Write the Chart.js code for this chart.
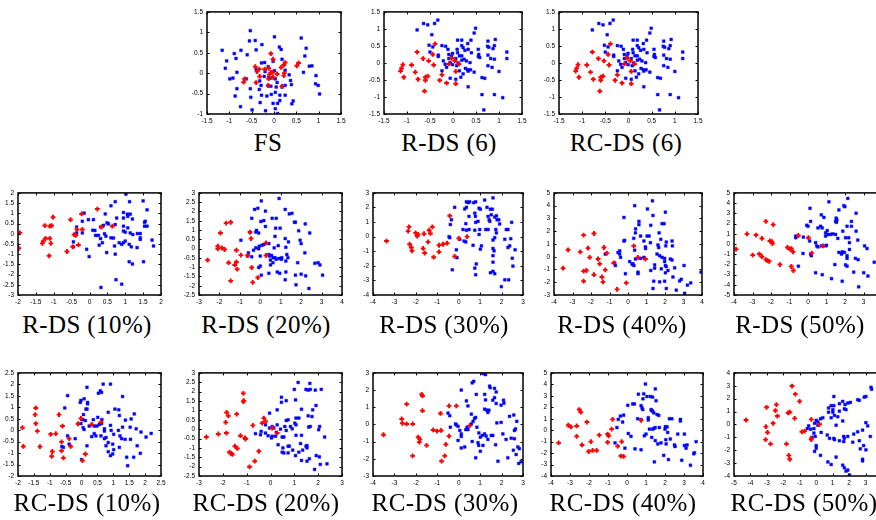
<!DOCTYPE html>
<html><head><meta charset="utf-8">
<script src="https://cdn.jsdelivr.net/npm/chart.js@4.4.1/dist/chart.umd.min.js"></script>
<style>
html,body{margin:0;padding:0;background:#fff;width:876px;height:520px;overflow:hidden;position:relative}
.pl{position:absolute}
.tt{position:absolute;font-family:"Liberation Serif",serif;font-size:25px;letter-spacing:0.4px;color:#000;white-space:nowrap;transform:translateX(-50%);line-height:25px}
</style></head><body>
<script>
// ---------------- DATA ----------------
const titles = ['FS','R-DS (6)','RC-DS (6)','R-DS (10%)','R-DS (20%)','R-DS (30%)','R-DS (40%)','R-DS (50%)','RC-DS (10%)','RC-DS (20%)','RC-DS (30%)','RC-DS (40%)','RC-DS (50%)'];
// axis ranges [min, max, step]
const xRanges = [[-1.5,1.5,0.5],[-1.5,1.5,0.5],[-1.5,1.5,0.5],[-2,2,0.5],[-3,4,1],[-4,3,1],[-4,4,1],[-4,4,1],[-2,2.5,0.5],[-3,3,1],[-4,3,1],[-4,4,1],[-5,4,1]];
const yRanges = [[-1,1.5,0.5],[-1.5,1.5,0.5],[-1.5,1.5,0.5],[-3,2,0.5],[-2.5,3,0.5],[-4,3,1],[-3,5,1],[-5,5,1],[-2,2.5,0.5],[-2.5,3,0.5],[-3,3,1],[-4,5,1],[-4,4,1]];

const FS_blue = [[-0.53,1.04],[-0.55,0.79],[-0.42,0.80],[-1.16,0.56],[-1.06,0.30],[-0.89,0.48],[-0.74,0.56],[-0.40,0.57],[-0.60,0.45],[-0.27,0.70],[0.12,0.64],[0.16,0.58],[0.01,0.89],[0.61,0.86],[0.72,0.61],[-0.85,0.36],[0.69,0.42],[-1.09,0.12],[0.79,0.17],[0.85,0.18],[-0.83,0.02],[-0.99,-0.14],[-0.92,-0.12],[-0.62,-0.14],[-0.21,0.26],[-0.02,0.29],[-0.13,0.16],[0.01,0.06],[-0.22,-0.08],[-0.12,-0.10],[0.03,-0.14],[-0.32,-0.19],[0.34,-0.04],[0.37,-0.18],[0.66,0.02],[0.94,-0.06],[-0.83,-0.38],[-0.87,-0.56],[-0.53,-0.38],[-0.33,-0.40],[-0.13,-0.31],[0.07,-0.23],[0.05,-0.34],[-0.07,-0.32],[0.18,-0.34],[0.25,-0.30],[0.39,-0.28],[0.93,-0.26],[0.99,-0.30],[1.02,-0.51],[-0.28,-0.54],[-0.06,-0.52],[0.03,-0.47],[0.13,-0.54],[0.25,-0.54],[-0.52,-0.59],[-0.31,-0.72],[-0.16,-0.56],[0.13,-0.67],[0.08,-0.74],[-0.02,-0.74],[0.43,-0.68],[0.40,-0.75],[-0.75,-0.82],[-0.49,-0.90],[-0.19,-0.92],[0.03,-0.87],[0.08,-0.99],[-0.29,-0.30],[-0.20,0.04],[-0.08,-0.12],[0.25,0.07],[-0.40,0.10],[-0.28,0.25],[0.18,0.34]];
const FS_red = [[-0.07,0.48],[-0.02,0.34],[-0.42,0.16],[-0.33,0.10],[-0.38,0.04],[-0.21,0.10],[-0.12,0.12],[-0.10,-0.03],[-0.07,0.02],[-0.03,0.02],[-0.12,-0.14],[-0.02,-0.10],[0.07,-0.02],[0.16,0.14],[0.22,0.20],[0.25,0.26],[0.23,0.0],[0.22,-0.06],[0.51,0.18],[0.55,0.25],[-0.68,-0.22],[-0.66,-0.14],[-0.40,-0.23],[-0.13,-0.30],[0.18,-0.32],[-0.32,-0.08]];

const RDS6_blue = [[-0.64,1.16],[-0.55,1.12],[-0.40,1.16],[-0.33,1.26],[-0.78,0.97],[-0.46,0.83],[0.49,1.02],[0.46,0.88],[-0.24,0.51],[-0.16,0.49],[-0.11,0.40],[0.10,0.67],[0.19,0.67],[0.32,0.57],[0.39,0.67],[-0.52,0.52],[-0.44,0.47],[-0.50,0.32],[-0.32,0.23],[-0.09,0.25],[-0.01,0.28],[0.09,0.40],[0.19,0.51],[0.22,0.45],[0.10,0.30],[0.14,0.21],[0.26,0.37],[0.33,0.40],[0.40,0.30],[0.55,0.40],[0.58,0.16],[0.76,0.64],[0.75,0.49],[0.78,0.46],[0.90,0.51],[0.92,0.69],[0.87,0.42],[1.17,0.32],[1.17,0.13],[-0.03,0.19],[-0.09,0.13],[-0.21,0.06],[-0.17,-0.04],[-0.06,0.01],[-0.01,-0.05],[-0.14,-0.13],[-0.24,-0.23],[0.06,0.13],[0.11,0.0],[0.19,0.08],[0.24,0.11],[0.29,0.06],[0.37,0.01],[0.27,-0.16],[0.32,-0.20],[0.33,-0.24],[0.22,-0.32],[0.08,-0.08],[0.14,-0.23],[0.17,-0.42],[0.06,-0.48],[-0.06,-0.45],[0.55,0.19],[0.56,0.25],[0.76,0.23],[0.82,0.13],[0.90,0.11],[0.76,-0.08],[0.85,-0.13],[1.00,-0.25],[0.63,-0.43],[0.69,-0.45],[0.33,-0.70],[0.63,-0.93],[0.90,-0.93],[1.08,-1.02],[0.67,-1.38],[0.38,-0.20],[0.46,-0.27],[0.19,0.21],[-0.32,0.19]];
const RDS6_red = [[-1.14,-0.24],[-1.12,-0.16],[-1.09,-0.05],[-0.90,-0.06],[-1.07,-0.42],[-0.82,-0.27],[-0.76,-0.48],[-0.60,-0.42],[-0.55,-0.39],[-0.60,-0.51],[-0.62,-0.83],[-0.78,0.32],[-0.65,0.13],[-0.53,0.06],[-0.44,0.25],[-0.42,-0.06],[-0.39,0.56],[-0.24,-0.35],[-0.29,-0.51],[-0.14,-0.59],[-0.09,-0.03],[-0.03,0.14],[0.04,0.06],[0.06,-0.25],[0.06,-0.61],[0.13,-0.03]];

const RDS10_blue = [[1.02,1.94],[0.72,1.57],[0.60,1.37],[1.12,1.57],[1.50,1.61],[1.61,1.17],[0.95,1.04],[1.06,0.96],[1.14,0.96],[1.07,0.85],[1.20,0.72],[0.44,0.97],[0.49,0.53],[0.53,0.48],[0.76,0.77],[0.95,0.77],[0.72,0.45],[0.95,0.37],[0.95,0.13],[1.00,0.08],[1.07,0.29],[1.14,0.04],[1.21,-0.04],[1.34,0.01],[1.42,0.01],[1.42,-0.20],[1.42,-0.28],[1.54,0.56],[1.54,0.37],[1.61,0.37],[1.56,0.61],[0.39,0.41],[0.31,0.33],[0.11,0.69],[-0.03,0.69],[-0.20,0.61],[-0.15,1.01],[-0.36,0.33],[-0.36,0.04],[-0.20,0.04],[0.09,0.17],[0.15,0.16],[0.17,-0.08],[0.25,-0.08],[0.31,-0.24],[0.42,0.0],[0.46,-0.12],[0.60,-0.20],[0.67,-0.21],[0.70,-0.60],[0.83,-0.44],[0.90,-0.52],[1.00,-0.36],[0.95,-0.44],[1.11,-0.52],[1.17,-0.64],[1.33,-0.68],[1.75,-0.31],[1.79,-0.60],[-0.45,-0.40],[-0.45,-0.64],[-0.08,-0.76],[-0.01,-1.12],[0.27,-0.56],[0.36,-0.44],[0.72,-1.00],[1.11,-1.37],[1.20,-1.48],[1.51,-1.37],[0.74,-2.25],[0.90,-2.47],[0.32,-2.63],[0.48,-0.92]];
const RDS10_red = [[-1.95,0.04],[-1.98,-0.71],[-1.32,-0.47],[-1.29,-0.36],[-1.25,0.40],[-1.23,-0.23],[-1.11,-0.23],[-1.11,0.37],[-1.06,0.40],[-1.08,-0.47],[-1.13,-1.08],[-1.02,0.81],[-0.63,-0.87],[-0.53,0.69],[-0.47,-0.64],[-0.43,-0.04],[-0.38,-0.08],[-0.35,0.21],[-0.31,-0.55],[-0.22,0.97],[-0.20,0.21],[0.22,1.21],[0.34,0.33],[0.64,0.37]];

const RDS20_blue = [[0.92,2.70],[0.05,2.57],[-0.28,2.11],[-0.12,2.17],[0.25,2.02],[-0.42,1.63],[0.03,1.46],[0.17,1.51],[0.58,1.63],[0.78,1.63],[1.22,2.11],[1.42,1.87],[1.55,1.90],[1.67,1.42],[1.72,1.42],[2.20,1.33],[2.42,0.84],[0.25,1.19],[-0.18,0.98],[-0.22,0.89],[-0.08,0.84],[-0.50,0.87],[0.75,1.10],[0.97,1.10],[0.72,0.66],[1.22,0.54],[1.38,0.36],[1.25,0.07],[0.42,0.27],[0.17,0.22],[0.08,0.18],[-0.05,0.13],[-0.22,0.04],[-0.33,-0.09],[-0.58,-0.23],[-0.08,-0.01],[0.68,0.04],[0.88,0.16],[-0.95,0.45],[-0.62,-0.40],[-0.42,-0.44],[0.0,-0.40],[0.42,-0.32],[0.45,-0.40],[0.55,-0.37],[0.63,-0.49],[0.72,-0.49],[0.92,-0.53],[1.05,-0.49],[1.35,-0.49],[1.30,-0.32],[0.50,-0.62],[0.62,-0.76],[0.78,-0.58],[1.03,-0.58],[1.25,-0.67],[-0.08,-1.02],[0.0,-0.94],[0.50,-0.88],[0.42,-1.33],[0.83,-1.26],[0.95,-1.33],[0.05,-1.43],[1.25,-1.26],[1.83,-0.76],[1.72,-1.43],[2.0,-1.38],[2.22,-1.47],[2.83,-0.76],[2.67,-0.79],[2.92,-0.88],[3.05,-1.43],[2.38,-2.15],[1.22,-1.68],[1.75,-1.95],[2.0,0.27],[2.18,-0.23],[1.95,0.45],[1.88,0.96]];
const RDS20_red = [[-2.58,-0.62],[-2.08,-0.01],[-2.08,0.13],[-1.88,0.04],[-1.75,-0.05],[-1.95,0.84],[-1.67,1.37],[-1.45,1.42],[-1.17,-0.09],[-1.55,-0.76],[-1.17,-0.72],[-1.25,-0.88],[-1.13,-1.11],[-1.45,-1.74],[-0.95,-0.35],[-0.62,-0.37],[-0.45,0.54],[-0.50,0.89],[-0.42,-1.02],[-0.37,-1.82],[-0.12,-1.56],[0.28,0.31],[0.28,-0.37]];

const RDS30_blue = [[-0.19,2.01],[-0.34,1.16],[-0.39,0.83],[-0.45,0.0],[-0.42,-0.07],[0.05,-0.18],[0.25,-0.30],[0.33,-0.36],[0.20,0.49],[0.33,0.89],[0.36,0.44],[0.44,2.33],[0.36,2.39],[0.51,2.39],[0.36,2.01],[0.28,1.90],[0.70,2.33],[0.79,2.39],[0.95,1.95],[1.01,1.88],[1.21,2.51],[1.32,2.01],[1.37,1.39],[1.42,1.16],[1.45,1.05],[1.48,1.88],[1.60,2.66],[1.57,1.88],[1.52,1.50],[1.68,1.34],[1.76,1.43],[1.79,1.16],[1.87,1.16],[1.91,0.87],[1.73,0.49],[1.76,0.26],[1.68,-0.07],[1.60,-0.23],[1.37,0.49],[1.26,0.49],[0.98,0.49],[0.90,1.05],[0.78,1.39],[0.75,1.61],[0.48,1.39],[0.48,0.49],[0.75,0.44],[0.79,0.98],[0.67,-0.59],[0.95,0.15],[1.01,-0.86],[1.60,-0.81],[1.65,-0.97],[1.60,-1.30],[1.60,-1.75],[2.15,-0.18],[2.22,0.49],[2.30,0.49],[2.43,-0.14],[2.47,0.98],[2.38,-0.63],[2.30,-0.74],[2.63,-0.90],[2.50,-1.48],[2.53,-2.02],[2.15,-2.96],[2.33,-2.96],[1.99,-3.43],[1.68,-2.54],[1.60,-2.38],[1.48,-2.47],[0.82,-1.87],[0.79,-2.61],[0.75,-2.16],[-0.30,-2.27],[-0.11,-0.90],[-0.08,-1.44],[1.06,-0.63]];
const RDS30_red = [[-3.37,-0.30],[-2.36,0.38],[-2.32,0.67],[-2.29,-0.52],[-2.21,-0.74],[-2.18,-0.97],[-2.01,0.26],[-1.94,0.04],[-1.90,0.15],[-1.66,-0.81],[-1.62,0.20],[-1.59,-1.12],[-1.43,-0.36],[-1.38,0.44],[-1.32,0.22],[-1.23,0.67],[-1.17,-1.41],[-0.92,-0.59],[-0.92,-1.04],[-0.73,-0.52],[-0.54,-0.45],[-0.42,1.43],[-0.19,-1.35],[0.0,-0.12],[0.39,0.0]];

const RDS40_blue = [[1.32,4.38],[0.36,4.0],[1.05,3.74],[1.35,3.23],[-0.22,3.08],[0.59,2.77],[0.59,2.51],[1.23,2.46],[0.41,2.18],[0.40,1.87],[0.68,1.62],[1.03,1.62],[1.14,1.62],[0.31,1.44],[-0.18,1.28],[-0.22,1.23],[0.86,1.23],[0.95,0.64],[0.94,0.77],[1.21,1.10],[1.68,1.87],[1.77,1.36],[1.84,2.59],[1.95,2.59],[2.02,3.49],[2.07,1.15],[2.04,0.85],[1.62,0.92],[1.66,0.72],[1.57,0.21],[1.71,0.08],[1.84,-0.05],[1.98,-0.13],[1.98,-0.38],[2.02,-0.69],[2.07,-0.77],[1.80,-0.95],[2.02,-1.26],[2.16,-1.08],[2.29,-0.18],[2.38,-0.26],[2.38,1.23],[2.40,0.85],[1.98,-1.92],[1.71,-1.97],[2.07,-2.49],[1.39,-1.92],[1.35,-2.49],[1.44,-0.64],[1.44,-0.90],[1.23,-1.08],[0.86,-0.05],[0.68,-0.13],[0.54,-1.21],[0.54,-1.33],[0.36,0.51],[0.40,-0.18],[0.32,-0.69],[0.27,-0.56],[0.09,-0.38],[0.22,-0.59],[-0.54,0.33],[-0.45,0.21],[-0.45,0.46],[-0.40,-0.05],[-0.68,-0.69],[-0.14,-1.33],[-0.72,-0.49],[-1.23,0.21],[2.43,-1.59],[2.61,-2.62],[2.79,-1.90],[2.88,-1.77],[3.03,-0.69],[3.21,-2.23],[3.39,-2.05],[3.06,-2.87],[3.95,-1.21],[2.52,-0.87]];
const RDS40_red = [[-3.51,-0.90],[-3.24,0.54],[-2.58,0.38],[-2.40,1.69],[-2.16,0.67],[-2.07,-0.05],[-2.40,-1.13],[-2.25,-1.08],[-2.40,-1.92],[-1.84,1.82],[-1.84,-1.41],[-1.62,-0.18],[-1.53,-0.56],[-1.41,-1.59],[-1.35,-1.97],[-1.30,0.72],[-1.23,-1.03],[-1.14,0.28],[-0.77,-0.49],[-0.59,-2.56],[-0.09,-2.05],[0.31,0.85],[0.54,-0.05],[0.94,-0.18]];

const RDS50_blue = [[1.13,4.13],[0.11,3.49],[2.15,4.46],[1.67,3.33],[1.94,3.75],[1.99,3.65],[2.60,3.01],[0.72,2.85],[0.86,2.60],[0.68,1.73],[0.54,1.57],[0.77,1.57],[1.04,1.31],[0.95,1.09],[1.09,0.93],[1.22,0.93],[1.34,0.99],[0.95,0.77],[1.49,0.93],[1.56,2.37],[1.52,2.53],[1.49,2.21],[1.54,2.12],[1.88,1.25],[2.03,0.61],[2.11,1.73],[2.20,0.61],[2.35,2.21],[2.35,1.73],[2.60,1.25],[2.69,0.38],[2.24,0.13],[1.61,0.54],[0.41,0.13],[0.47,-0.19],[0.54,-0.29],[0.73,-0.19],[0.95,-0.19],[1.00,-0.13],[-0.07,1.83],[0.0,1.73],[-0.66,0.77],[-0.66,0.61],[-0.25,0.67],[0.09,0.29],[0.14,-0.99],[0.18,-1.15],[-0.27,-0.93],[-0.52,-2.18],[0.41,-2.82],[0.77,-3.01],[1.67,-0.83],[1.81,-0.99],[1.85,-0.77],[1.97,-0.83],[2.11,-1.41],[2.11,-1.15],[2.24,-0.54],[2.03,-2.05],[2.11,-2.18],[2.47,-2.76],[2.56,-1.41],[2.71,-1.54],[2.74,-4.20],[3.01,-2.82],[3.06,-0.19],[3.19,-0.45],[3.24,-3.14],[3.58,-1.79],[1.85,-3.65],[1.27,-3.40],[1.45,-2.02],[0.14,2.21]];
const RDS50_red = [[-3.89,-0.51],[-3.30,0.99],[-2.99,-1.09],[-2.81,0.87],[-2.63,-0.99],[-2.49,0.54],[-2.49,-1.25],[-2.28,2.21],[-2.28,-1.54],[-2.19,-1.63],[-2.10,-1.70],[-2.06,0.29],[-1.95,0.22],[-1.92,0.03],[-1.88,1.89],[-1.52,-2.02],[-1.11,-0.35],[-0.99,-0.51],[-0.90,-0.45],[-0.81,-0.77],[-0.90,-2.21],[-0.79,-2.60],[-0.52,0.83],[0.02,0.61],[0.20,-0.90],[0.81,-0.19]];

const RCDS10_blue = [[0.17,1.87],[0.68,2.01],[0.91,2.01],[0.53,1.61],[0.59,1.72],[0.63,1.65],[1.29,1.47],[-0.44,1.51],[-0.02,1.30],[0.08,1.37],[-0.04,1.21],[0.19,1.21],[0.19,1.15],[0.14,0.92],[0.17,0.92],[-0.53,0.97],[0.06,0.68],[0.04,0.46],[0.12,0.42],[0.37,0.46],[0.64,0.46],[0.63,0.29],[0.56,0.25],[0.51,0.56],[0.84,0.78],[1.05,0.92],[1.17,0.89],[1.19,0.64],[1.38,0.44],[1.66,0.71],[1.56,0.49],[0.72,0.06],[0.91,0.21],[-0.02,0.29],[0.05,0.11],[0.08,0.03],[0.24,0.18],[0.40,0.18],[0.48,0.18],[0.72,-0.04],[0.93,-0.01],[1.16,-0.01],[1.29,0.13],[1.53,0.13],[1.72,0.06],[1.87,-0.08],[2.19,-0.14],[2.03,-0.30],[-0.44,-0.25],[-0.20,-0.37],[0.45,-0.25],[0.61,-0.25],[0.72,-0.37],[0.77,-0.32],[1.01,-0.18],[1.21,-0.25],[1.26,-0.37],[0.77,-0.68],[0.84,-0.54],[0.98,-0.61],[0.84,-0.94],[0.91,-1.11],[1.01,-0.85],[0.98,-1.04],[1.19,-0.75],[1.37,-0.40],[1.54,-0.40],[1.75,-0.68],[1.85,-1.01],[1.64,-1.18],[1.42,-1.18],[-0.39,-0.61],[-0.62,-0.71],[-0.57,-0.75],[0.0,-1.28],[0.17,-0.68],[0.32,-0.28],[0.40,-0.15],[1.45,-1.55]];
const RCDS10_red = [[-1.86,0.11],[-1.83,-0.71],[-1.44,0.97],[-1.46,0.68],[-1.44,0.29],[-1.39,-0.04],[-1.31,-0.72],[-0.97,-0.18],[-0.92,-0.93],[-0.94,-1.14],[-0.81,-0.15],[-0.71,0.68],[-0.63,-0.51],[-0.63,-0.90],[-0.60,0.18],[-0.57,-1.21],[-0.39,-0.37],[-0.34,-0.71],[-0.11,0.28],[-0.02,0.51],[0.12,-1.04],[0.03,-1.33],[0.32,0.25],[0.61,0.35]];

const RCDS20_blue = [[1.16,2.49],[1.49,2.12],[1.58,2.08],[1.67,2.12],[1.65,2.44],[1.88,2.08],[2.13,2.12],[1.00,2.12],[1.05,1.56],[0.46,1.70],[0.46,1.43],[0.66,1.52],[1.30,1.06],[1.77,1.03],[1.91,1.26],[1.74,0.67],[1.58,0.71],[1.19,0.59],[1.07,0.59],[0.74,0.50],[0.66,0.46],[1.02,0.32],[1.07,0.23],[0.84,0.14],[0.60,0.14],[0.91,0.02],[0.66,-0.07],[0.28,1.03],[0.28,0.23],[-0.04,0.85],[-0.21,0.23],[-0.04,0.06],[0.14,0.06],[0.07,0.14],[-0.21,-0.21],[-0.10,-0.35],[0.04,-0.47],[0.21,-0.38],[0.25,-0.17],[0.42,0.0],[0.49,-0.42],[0.56,-0.42],[1.07,-0.33],[1.30,-0.33],[1.26,-0.77],[1.49,-0.91],[1.53,-1.00],[1.35,-1.12],[1.19,-1.23],[0.93,-1.12],[0.79,-0.91],[0.56,-1.27],[0.49,-1.23],[1.05,-1.41],[1.53,-1.71],[1.63,-1.58],[1.92,-1.41],[2.05,-1.48],[2.37,-1.85],[2.02,-0.03],[2.06,0.14],[1.67,0.14],[1.60,0.11],[2.27,-0.42],[2.09,-1.88],[1.85,-2.15],[1.30,-1.67],[0.74,-1.27],[0.07,-0.38],[-0.39,-0.12],[-0.63,-0.24],[-0.42,-0.30],[0.32,-0.83],[0.52,-1.0],[0.74,-0.91],[1.53,-0.88]];
const RCDS20_red = [[-2.69,-0.42],[-2.19,-0.26],[-1.85,-0.21],[-1.88,0.36],[-1.84,0.89],[-1.77,0.71],[-1.42,0.80],[-1.72,-1.23],[-1.65,-1.30],[-1.60,-1.35],[-1.49,-0.91],[-1.39,-1.03],[-1.14,1.91],[-1.14,1.47],[-1.12,1.52],[-1.26,-0.35],[-1.07,-0.47],[-1.05,-0.53],[-0.74,0.20],[-0.35,0.32],[-0.28,0.59],[-0.21,0.41],[-0.49,-1.18],[-0.66,-1.71],[-0.88,-2.01],[0.07,0.06],[0.28,-0.21]];

const RCDS30_blue = [[1.13,2.96],[1.25,2.90],[0.70,2.51],[0.63,2.42],[1.44,2.23],[1.21,1.75],[1.47,2.14],[1.67,2.10],[1.75,1.89],[0.12,2.00],[0.82,1.75],[1.67,1.56],[1.59,1.41],[1.25,1.43],[0.36,1.37],[0.43,1.08],[1.21,0.89],[1.32,0.83],[1.36,0.70],[1.41,0.83],[0.79,0.41],[0.74,0.35],[0.67,0.18],[0.59,0.03],[1.75,1.22],[2.11,1.24],[2.09,1.41],[1.98,1.12],[2.37,0.47],[2.57,0.55],[2.71,0.18],[2.65,-0.26],[2.60,-0.35],[2.60,-0.83],[2.45,-0.80],[2.21,-0.87],[2.06,-0.55],[1.78,0.09],[1.98,0.12],[0.39,-0.16],[0.33,-0.30],[0.43,-0.30],[0.05,-0.35],[-0.11,-0.03],[-0.15,0.03],[-0.03,-0.11],[0.12,-0.55],[0.12,-0.70],[-0.03,-0.93],[-0.42,0.51],[-0.50,0.66],[-0.39,-0.16],[0.85,-0.16],[0.94,-0.49],[1.01,-0.74],[1.10,-0.64],[1.21,-0.55],[1.28,-0.68],[1.52,-0.64],[1.59,-0.64],[1.36,-0.87],[1.72,-1.18],[1.13,-1.22],[0.90,-1.06],[0.93,-1.22],[1.01,-1.56],[0.79,-1.94],[0.63,-0.99],[0.28,-1.31],[0.12,-1.37],[2.76,-1.31],[2.83,-1.41],[2.68,-1.75],[2.80,-2.27],[2.91,-2.17],[2.55,-1.50],[2.29,-1.94],[1.83,-2.14],[0.59,0.60]];
const RCDS30_red = [[-3.51,-0.60],[-2.66,0.32],[-2.63,0.07],[-2.43,1.18],[-2.43,0.03],[-2.15,0.03],[-1.89,-0.74],[-1.81,-0.87],[-1.84,-1.03],[-1.73,1.75],[-1.69,1.66],[-1.69,0.80],[-1.50,-1.22],[-2.15,-1.83],[-1.19,-0.32],[-1.01,-0.39],[-0.82,-0.35],[-0.85,0.64],[-0.60,-1.16],[-0.65,-1.83],[-0.80,-2.14],[-0.45,-0.68],[-0.45,1.08],[-0.11,1.08],[0.51,-0.07]];

const RCDS40_blue = [[0.97,4.03],[0.60,3.14],[0.88,3.17],[0.84,2.74],[1.05,2.94],[1.23,2.94],[1.35,2.89],[1.49,3.60],[1.53,2.57],[1.27,1.80],[1.30,1.71],[1.35,1.66],[1.41,1.51],[1.58,1.37],[1.67,1.29],[1.12,1.09],[1.12,0.89],[0.74,2.14],[0.79,1.94],[0.83,1.80],[0.30,2.29],[0.39,2.29],[0.04,2.17],[-0.18,1.31],[-0.35,1.23],[-0.46,0.94],[-0.53,0.23],[-0.23,0.71],[0.07,-0.29],[0.21,-0.54],[0.56,1.0],[0.74,0.94],[1.41,0.14],[1.48,0.23],[1.35,0.09],[1.18,0.09],[0.91,-0.49],[1.0,-0.34],[1.30,-0.63],[1.49,-0.91],[1.62,-1.20],[1.79,-1.11],[2.0,0.09],[2.02,0.31],[2.11,0.29],[2.14,-0.20],[2.23,1.0],[2.36,1.0],[2.06,-1.20],[2.04,-0.83],[2.50,-1.29],[2.53,-1.43],[2.67,-0.34],[2.81,0.80],[2.81,0.94],[3.02,-0.34],[3.02,-1.34],[3.16,-1.29],[3.11,-1.57],[3.51,-2.06],[3.55,-1.97],[3.64,-1.0],[2.88,-2.63],[3.34,-3.06],[2.18,-2.57],[1.93,-2.20],[1.44,-2.77],[0.74,-1.71],[0.42,-1.63],[-0.11,-1.57],[-0.63,-1.11],[2.28,-0.77],[1.70,0.23]];
const RCDS40_red = [[-3.60,-1.11],[-3.09,0.43],[-2.95,0.29],[-2.65,0.37],[-2.65,-0.54],[-2.51,1.80],[-2.43,1.57],[-2.37,-1.29],[-2.11,0.71],[-1.90,-1.0],[-2.02,-1.86],[-1.81,-1.77],[-1.60,-1.77],[-1.46,-0.43],[-1.02,-0.34],[-0.97,-0.49],[-1.02,-1.06],[-0.81,0.09],[-0.76,0.94],[-0.49,-1.40],[-0.32,-2.26],[-0.18,-2.29],[-0.28,-1.0],[0.74,0.86]];

const RCDS50_blue = [[3.33,2.88],[3.37,2.73],[2.92,2.12],[3.02,2.17],[2.52,1.92],[2.62,1.87],[2.08,1.71],[1.92,1.66],[1.75,1.54],[1.07,2.17],[1.41,1.61],[1.61,1.79],[1.71,1.21],[1.81,1.15],[1.07,1.46],[0.91,1.46],[0.75,1.28],[0.75,0.95],[1.01,0.95],[1.11,0.70],[1.01,1.15],[0.91,0.52],[1.21,-0.06],[1.61,0.27],[1.41,1.03],[1.31,0.60],[0.40,0.52],[0.26,0.44],[0.0,0.32],[0.10,0.19],[-0.10,0.09],[-0.46,-0.11],[-0.54,-0.32],[-0.34,-0.37],[-0.14,-0.32],[-0.14,-0.67],[0.10,-0.06],[-0.26,-1.0],[-0.06,-0.93],[0.30,-0.62],[0.67,-0.82],[0.81,-1.08],[1.07,-1.08],[1.67,-0.93],[1.71,-1.08],[1.92,-0.93],[2.28,-0.75],[2.52,-0.57],[2.82,-0.44],[3.02,0.14],[3.13,-0.11],[3.29,-0.93],[2.62,-1.26],[2.22,-1.38],[1.67,-1.33],[0.0,-1.64],[0.0,-1.85],[-0.10,-2.09],[0.26,-2.40],[0.71,-2.91],[0.91,-3.11],[1.21,-2.53],[1.61,-3.16],[1.71,-3.36],[1.81,-3.62],[1.92,-3.54],[2.02,-3.92],[2.82,-2.83],[2.82,-2.70],[3.02,-1.97],[2.68,-1.89],[2.88,-1.64],[1.11,-1.18],[1.41,-1.26]];
const RCDS50_red = [[-4.27,0.34],[-3.02,1.33],[-3.06,-0.17],[-2.96,-0.62],[-3.08,-1.18],[-2.62,0.09],[-2.48,1.08],[-2.36,0.65],[-2.42,1.54],[-1.71,0.90],[-1.61,0.95],[-1.47,2.98],[-1.27,2.35],[-1.31,0.47],[-1.01,1.79],[-1.81,-1.51],[-1.67,-2.40],[-1.61,-2.70],[-0.87,-0.57],[-0.71,-0.52],[-0.30,-1.08],[-0.30,-1.18],[-0.30,0.39],[0.20,0.01],[-2.78,-1.51]];

const blueSets = [FS_blue,RDS6_blue,RDS6_blue,RDS10_blue,RDS20_blue,RDS30_blue,RDS40_blue,RDS50_blue,RCDS10_blue,RCDS20_blue,RCDS30_blue,RCDS40_blue,RCDS50_blue];
const redSets  = [FS_red,RDS6_red,RDS6_red,RDS10_red,RDS20_red,RDS30_red,RDS40_red,RDS50_red,RCDS10_red,RCDS20_red,RCDS30_red,RCDS40_red,RCDS50_red];

// ---------------- LAYOUT ----------------
// plot frames [left, top, right, bottom] in page pixels
const frames = [[207,10,341,114],[384,10,522,114],[559,10,698,114],
  [18,191,161,295],[199,191,342,295],[373,191,523,295],[554,191,702,295],[734,191,882,295],
  [18,371,161,476],[199,371,342,476],[373,371,523,476],[551,371,703,476],[734,371,882,476]];
// title centre x and top y
const titlePos = [[268,130],[449,130],[626,130],[87,312],[266,312],[444,312],[622,312],[800,312],[87,490],[266,490],[445,490],[623,490],[804,490]];

const ML=26, MR=10, MT=6, MB=14;

const framePlugin = {
  id:'frameBox',
  afterDraw(chart){
    const ctx = chart.ctx, a = chart.chartArea, xs = chart.scales.x, ys = chart.scales.y;
    ctx.save();
    ctx.strokeStyle = '#000'; ctx.lineWidth = 1;
    ctx.beginPath();
    xs.ticks.forEach(t => { const p = Math.round(xs.getPixelForValue(t.value))+0.5;
      ctx.moveTo(p,a.bottom); ctx.lineTo(p,a.bottom-2.5); ctx.moveTo(p,a.top); ctx.lineTo(p,a.top+2.5); });
    ys.ticks.forEach(t => { const p = Math.round(ys.getPixelForValue(t.value))+0.5;
      ctx.moveTo(a.left,p); ctx.lineTo(a.left+2.5,p); ctx.moveTo(a.right,p); ctx.lineTo(a.right-2.5,p); });
    ctx.stroke();
    ctx.lineWidth = 1.5;
    ctx.strokeRect(a.left, a.top, a.right-a.left, a.bottom-a.top);
    ctx.restore();
  }
};

function toXY(arr){ return arr.map(p => ({x:p[0], y:p[1]})); }
function fmt(v){ return String(Math.round(v*100)/100); }

for (let i=0;i<13;i++){
  const [l,t,r,b] = frames[i];
  const W = r-l+ML+MR, H = b-t+MT+MB;
  const div = document.createElement('div');
  div.className='pl';
  div.style.left=(l-ML)+'px'; div.style.top=(t-MT)+'px';
  div.style.width=W+'px'; div.style.height=H+'px';
  const cv = document.createElement('canvas');
  cv.width=W; cv.height=H; cv.style.width=W+'px'; cv.style.height=H+'px';
  div.appendChild(cv); document.body.appendChild(div);
  const tickFont = {family:'Liberation Sans', size:6.5};
  new Chart(cv, {
    type:'scatter',
    data:{datasets:[
      {data:toXY(redSets[i]), pointStyle:'cross', pointRadius:2.4, pointBorderWidth:1.9, pointBorderColor:'#ff0000', pointBackgroundColor:'#ff0000'},
      {data:toXY(blueSets[i]), pointStyle:'rect', pointRadius:2, pointBorderWidth:0.4, pointBorderColor:'#0000ff', pointBackgroundColor:'#0000ff'}
    ]},
    options:{
      responsive:false, animation:false, events:[], devicePixelRatio:1,
      layout:{padding:{left:0,right:MR,top:MT,bottom:0}},
      plugins:{legend:{display:false}, tooltip:{enabled:false}},
      scales:{
        x:{type:'linear', min:xRanges[i][0], max:xRanges[i][1],
           ticks:{stepSize:xRanges[i][2], font:tickFont, color:'#000', maxRotation:0, autoSkip:false, padding:3, callback:fmt},
           grid:{display:false, drawTicks:false}, border:{display:false},
           afterFit(s){ s.height = MB; }},
        y:{type:'linear', min:yRanges[i][0], max:yRanges[i][1],
           ticks:{stepSize:yRanges[i][2], font:tickFont, color:'#000', autoSkip:false, padding:4, callback:fmt},
           grid:{display:false, drawTicks:false}, border:{display:false},
           afterFit(s){ s.width = ML; }}
      }
    },
    plugins:[framePlugin]
  });
  const tt = document.createElement('div');
  tt.className='tt'; tt.textContent = titles[i];
  tt.style.left = titlePos[i][0]+'px'; tt.style.top = titlePos[i][1]+'px';
  document.body.appendChild(tt);
}
</script>
</body></html>
